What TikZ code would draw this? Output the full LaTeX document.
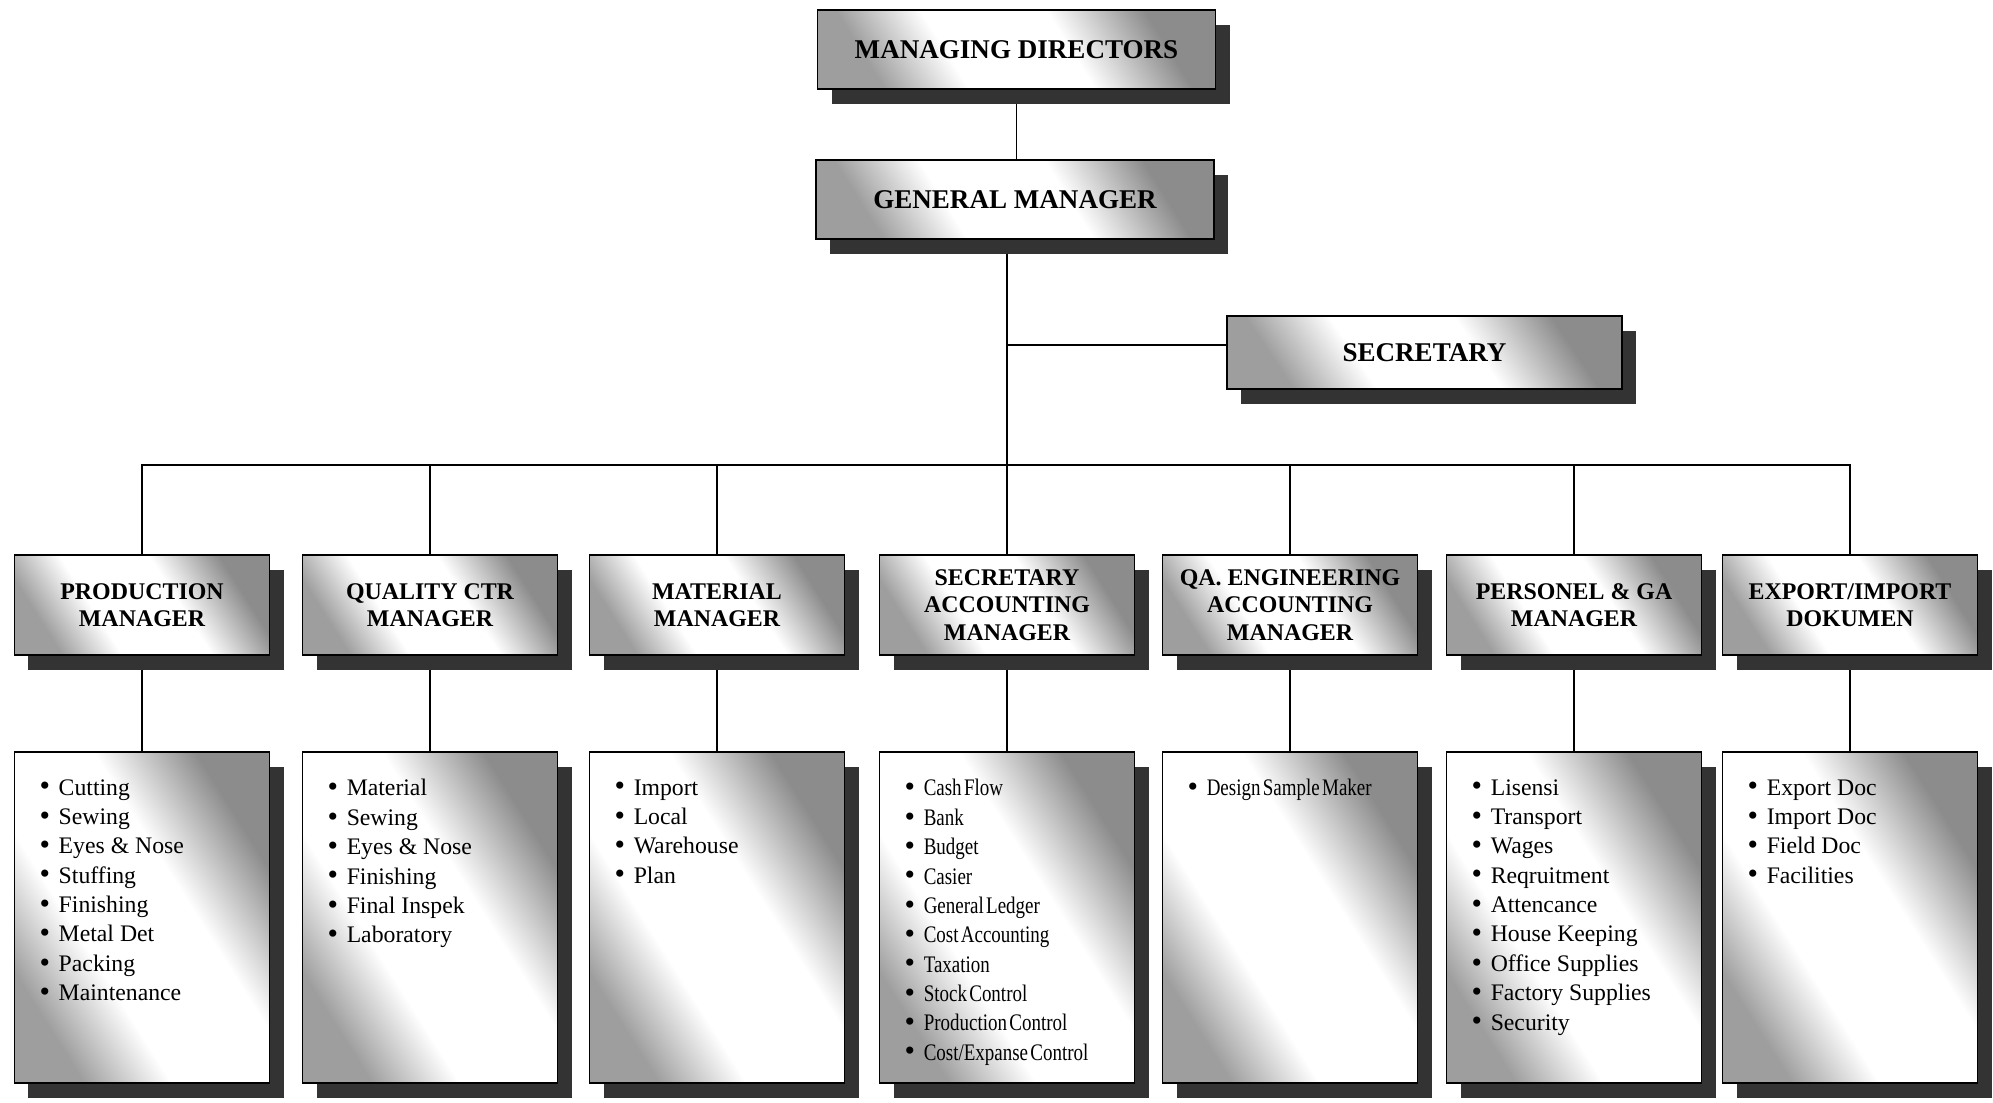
\documentclass[tikz,border=0pt]{standalone}
\usepackage{fontspec}
\setmainfont{Liberation Serif}
\newfontfamily\narrowserif[FakeStretch=0.8,WordSpace=0.5]{Liberation Serif}
\usetikzlibrary{shadows,backgrounds}

% grey-white-grey slanted fill of the cards, #2 = weight of the height
\newcommand\cardshading[2]{\pgfdeclarefunctionalshading{#1}{\pgfpointorigin}{\pgfpoint{100bp}{100bp}}{}{
	25 sub 50 div #2 mul exch 25 sub 50 div 1 #2 sub mul add
	dup 0.15 sub 2.0 mul 0.62 add
	dup 1 gt {pop 1} if
	dup 0.62 lt {pop 0.62} if
	exch 0.62 sub 2.045 mul neg 1 add
	dup 1 gt {pop 1} if
	dup 0.55 lt {pop 0.55} if
	2 copy gt {exch} if pop
	dup dup
}}
\cardshading{wideshade}{0.11}
\cardshading{boxshade}{0.2}
\cardshading{tallshade}{0.45}

\tikzset{
	card/.style={draw=black, line width=0.6pt,
		drop shadow={shadow xshift=0.28cm, shadow yshift=-0.3cm, fill=black!80, opacity=1}},
	headbox/.style={card, shading=wideshade, minimum width=7.96cm, minimum height=1.58cm, font=\fontsize{15.4}{18}\selectfont\bfseries},
	managerbox/.style={card, shading=boxshade, minimum width=5.1cm, minimum height=2cm, inner sep=0pt, align=center, font=\fontsize{13.6}{15.5}\selectfont\bfseries},
	dutybox/.style={card, shading=tallshade, inner xsep=0.5cm, inner ysep=0.55cm, font=\fontsize{13.5}{16.7}\selectfont},
	link/.style={line width=0.9pt}
}

\newcommand\duties[1]{\parbox[t][5.52cm][t]{4.1cm}{\raggedright #1}}
\newcommand\itm{{\rmfamily\fontsize{17}{0}\selectfont\raisebox{-0.4pt}{\textbullet}}\hspace{5pt}}

\begin{document}
\begin{tikzpicture}
	\useasboundingbox (0,0) rectangle (39.86,-22.04);

	% top
	\node[headbox] (md) at (20.33,-0.99) {MANAGING DIRECTORS};
	\node[headbox] (gm) at (20.3,-3.99) {GENERAL MANAGER};
	\node[headbox, minimum width=7.9cm, minimum height=1.46cm] (sec) at (28.49,-7.05) {SECRETARY};

	% managers
	\node[managerbox] (prod) at (2.84,-12.1) {PRODUCTION\\MANAGER};
	\node[managerbox] (qc) at (8.6,-12.1) {QUALITY CTR\\MANAGER};
	\node[managerbox] (mat) at (14.34,-12.1) {MATERIAL\\MANAGER};
	\node[managerbox] (sacc) at (20.14,-12.1) {SECRETARY\\ACCOUNTING\\MANAGER};
	\node[managerbox] (qa) at (25.8,-12.1) {QA. ENGINEERING\\ACCOUNTING\\MANAGER};
	\node[managerbox] (pers) at (31.48,-12.1) {PERSONEL \& GA\\MANAGER};
	\node[managerbox] (exp) at (37.0,-12.1) {EXPORT/IMPORT\\DOKUMEN};

	% duties
	\node[dutybox] (prod-duty) at (2.84,-18.35) {\duties{\itm Cutting\\ \itm Sewing\\ \itm Eyes \& Nose\\ \itm Stuffing\\ \itm Finishing\\ \itm Metal Det\\ \itm Packing\\ \itm Maintenance}};
	\node[dutybox] (qc-duty) at (8.6,-18.35) {\duties{\itm Material\\ \itm Sewing\\ \itm Eyes \& Nose\\ \itm Finishing\\ \itm Final Inspek\\ \itm Laboratory}};
	\node[dutybox] (mat-duty) at (14.34,-18.35) {\duties{\itm Import\\ \itm Local\\ \itm Warehouse\\ \itm Plan}};
	\node[dutybox] (sacc-duty) at (20.14,-18.35) {\duties{\narrowserif \itm Cash Flow\\ \itm Bank\\ \itm Budget\\ \itm Casier\\ \itm General Ledger\\ \itm Cost Accounting\\ \itm Taxation\\ \itm Stock Control\\ \itm Production Control\\ \itm Cost/Expanse Control}};
	\node[dutybox] (qa-duty) at (25.8,-18.35) {\duties{\narrowserif \itm Design Sample Maker}};
	\node[dutybox] (pers-duty) at (31.48,-18.35) {\duties{\itm Lisensi\\ \itm Transport\\ \itm Wages\\ \itm Reqruitment\\ \itm Attencance\\ \itm House Keeping\\ \itm Office Supplies\\ \itm Factory Supplies\\ \itm Security}};
	\node[dutybox] (exp-duty) at (37.0,-18.35) {\duties{\itm Export Doc\\ \itm Import Doc\\ \itm Field Doc\\ \itm Facilities}};

	% lines
	\coordinate (bus) at (0,-9.3);
	\begin{scope}[on background layer]
		\draw[link] (md.south) -- (md.south |- gm.north);
		\draw[link] (gm.south -| sacc.north) -- (sacc.north);
		\draw[link] ([yshift=0.15cm]sec.west) -- ([yshift=0.15cm]sec.west -| sacc.north);
		\draw[link] (prod.north) -- (prod.north |- bus) -- (exp.north |- bus) -- (exp.north);
		\foreach \m in {qc,mat,qa,pers}
			\draw[link] (\m.north) -- (\m.north |- bus);
		\foreach \m in {prod,qc,mat,sacc,qa,pers,exp}
			\draw[link] (\m.south) -- (\m-duty.north);
	\end{scope}
\end{tikzpicture}
\end{document}
